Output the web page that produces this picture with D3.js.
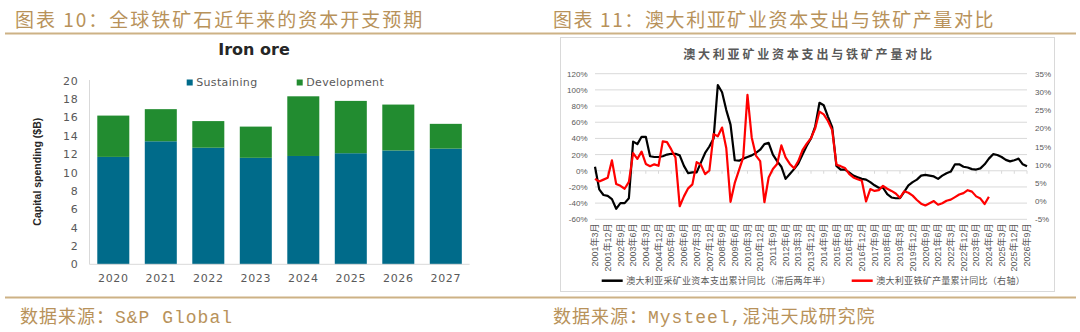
<!DOCTYPE html>
<html>
<head>
<meta charset="utf-8">
<script src="https://cdn.jsdelivr.net/npm/d3@7"></script>
<style>
  html, body { margin: 0; padding: 0; background: #fff; }
  svg { display: block; }
</style>
</head>
<body>
<svg id="chart" width="1080" height="332"></svg>
<script>
// ---------- Panel 10: iron ore capital spending ($B) ----------
const years = ["2020", "2021", "2022", "2023", "2024", "2025", "2026", "2027"];
const sustaining = [11.7, 13.4, 12.7, 11.6, 11.8, 12.1, 12.4, 12.6];
const development = [4.5, 3.5, 2.9, 3.4, 6.5, 5.7, 5.0, 2.7];
const barTicks = [0, 2, 4, 6, 8, 10, 12, 14, 16, 18, 20];

// ---------- Panel 11: Australian mining capex vs iron ore output ----------
// quarterly categories, 2001年3月 .. 2026年9月
const quarters = [];
for (let y = 2001; y <= 2026; y++) {
  for (const m of [3, 6, 9, 12]) {
    if (y === 2026 && m > 9) break;
    quarters.push(y + "年" + m + "月");
  }
}
// cumulative YoY of mining capex, lagged 2.5 years (left axis, %)
const capexYoY = [
  5, -23, -30, -31, -35, -47, -40, -40, -34, 36,
  33, 42, 42, 18, 17, 17, 18, 20, 21, 21,
  19, 6, -3, -2, -2, 10, 22, 30, 40, 106,
  97, 75, 57, 13, 12.5, 15, 17, 19, 22, 26,
  33, 34.5, 20, 12, 5, -10, -4, 2, 9, 20,
  31, 40, 55, 84, 81, 67, 54, 6, 1.5, 1.5,
  -2, -6, -8, -10, -11, -14, -18, -21, -21, -29,
  -33, -34, -34, -26, -18, -14, -11, -6, -5, -6,
  -7, -10, -6, -3, -1, 8, 8, 5, 4, 2,
  1.5, 3, 8, 15, 20.5, 19.5, 17, 13.5, 11.6, 13,
  15, 8, 5.5
];
// cumulative YoY of iron ore output (right axis, %)
const oreYoY = [
  6.1, 5.4, 5.9, 6.4, 11.2, 4.7, 4.2, 3.4, 5.3, 13.2,
  11.6, 13.6, 10.2, 9.6, 10.1, 9.7, 16.4, 16.2, 14.2, 12,
  -1.4, 1.3, 3.5, 4.6, 10.7, 10, 7.4, 8.4, 18.4, 17.8,
  20.2, 14.5, -0.2, 5, 8.5, 12, 29.2, 17.5, 12.5, 11,
  -0.3, 6.5, 8.8, 10.2, 15.3, 12, 10.2, 9, 11, 14,
  15.8, 17.3, 20, 24.6, 23.8, 22, 19.5, 10, 9.6, 9.1,
  7.5, 6.5, 6, 5.6, -0.1, 3.3, 2.8, 3.0, 4.2, 3.4,
  2.8, 2.1, 0.9, 2.7, 2.3, 1.5, 0.3, -0.7, -1.2, -0.6,
  0, -1, -0.6, 0.1, 0.4, 1.1, 1.8, 2.2, 3.0, 2.6,
  1.3, 0.7, -0.8, 1.2
];
const leftTicks = [-60, -40, -20, 0, 20, 40, 60, 80, 100, 120];
const rightTicks = [-5, 0, 5, 10, 15, 20, 25, 30, 35];

const gold = "#b8925a";
const goldLine = "#cdb285";
const grey = "#595959";
const cjk = "'Noto Sans CJK SC', sans-serif";

const svg = d3.select("#chart");

// ---------- headers and footers ----------
svg.append("text").attr("x", 15).attr("y", 27)
  .attr("font-family", cjk).attr("font-size", 19).attr("letter-spacing", 2)
  .attr("fill", gold).text("图表 10：全球铁矿石近年来的资本开支预期");
svg.append("text").attr("x", 553).attr("y", 27)
  .attr("font-family", cjk).attr("font-size", 19).attr("letter-spacing", 1.6)
  .attr("fill", gold).text("图表 11：澳大利亚矿业资本支出与铁矿产量对比");
svg.append("line").attr("x1", 5).attr("x2", 1076).attr("y1", 33.5).attr("y2", 33.5)
  .attr("stroke", goldLine).attr("stroke-width", 2);
svg.append("line").attr("x1", 5).attr("x2", 1076).attr("y1", 297.5).attr("y2", 297.5)
  .attr("stroke", goldLine).attr("stroke-width", 2);

const srcFont = "'Liberation Mono', 'Noto Sans CJK SC', monospace";
svg.append("text").attr("x", 20).attr("y", 323)
  .attr("font-family", srcFont).attr("font-size", 18).attr("letter-spacing", 1)
  .attr("fill", gold).text("数据来源：S&P Global");
svg.append("text").attr("x", 553).attr("y", 323)
  .attr("font-family", srcFont).attr("font-size", 18).attr("letter-spacing", 1)
  .attr("fill", gold).text("数据来源：Mysteel,混沌天成研究院");

// ---------- stacked bar chart ----------
const sansWide = "'DejaVu Sans', sans-serif";
const xb = d3.scaleBand().domain(years).range([89.5, 469.6])
  .paddingInner(0.326).paddingOuter(0.164);
const yb = d3.scaleLinear().domain([0, 20]).range([264.3, 80.7]);

const bar = svg.append("g");
bar.append("text").attr("x", 254).attr("y", 54.5).attr("text-anchor", "middle")
  .attr("font-family", sansWide).attr("font-weight", "bold").attr("font-size", 16)
  .attr("fill", "#262626").text("Iron ore");

const yAxisB = bar.append("g").attr("transform", "translate(89.5,0)")
  .call(d3.axisLeft(yb).tickValues(barTicks).tickSize(0).tickPadding(11));
yAxisB.select(".domain").remove();
yAxisB.selectAll("text").attr("font-family", sansWide).attr("font-size", 11)
  .attr("letter-spacing", 0.8).attr("fill", grey);

const xAxisB = bar.append("g").attr("transform", "translate(0,264.3)")
  .call(d3.axisBottom(xb).tickSize(0).tickPadding(10));
xAxisB.select(".domain").remove();
xAxisB.selectAll("text").attr("font-family", sansWide).attr("font-size", 11)
  .attr("letter-spacing", 0.6).attr("fill", grey);

bar.append("text")
  .attr("transform", "translate(37.5,171.7) rotate(-90)")
  .attr("text-anchor", "middle").attr("dy", "0.35em")
  .attr("font-family", "'Liberation Sans', Arial, sans-serif").attr("font-weight", "bold")
  .attr("font-size", 10.5).attr("fill", "#262626").text("Capital spending ($B)");

const series = [
  { name: "Sustaining", color: "#006b8a", vals: sustaining },
  { name: "Development", color: "#228c30", vals: development }
];
const stacked = d3.stack().keys([0, 1])
  .value((d, k) => series[k].vals[d])(d3.range(years.length));
stacked.forEach((layer, k) => {
  bar.append("g").selectAll("rect").data(layer).join("rect")
    .attr("x", (d, i) => xb(years[i]))
    .attr("width", xb.bandwidth())
    .attr("y", d => yb(d[1]))
    .attr("height", d => yb(d[0]) - yb(d[1]))
    .attr("fill", series[k].color);
});

bar.append("line").attr("x1", 89.5).attr("x2", 89.5).attr("y1", 80).attr("y2", 264.3)
  .attr("stroke", "#d9d9d9").attr("stroke-width", 1);
bar.append("line").attr("x1", 89.5).attr("x2", 469.6).attr("y1", 264.3).attr("y2", 264.3)
  .attr("stroke", "#d9d9d9").attr("stroke-width", 1);

const legB = bar.append("g");
[[186.7, 0], [296.7, 1]].forEach(([lx, k]) => {
  legB.append("rect").attr("x", lx).attr("y", 79.5).attr("width", 6).attr("height", 6)
    .attr("fill", series[k].color);
  legB.append("text").attr("x", lx + 9.5).attr("y", 82.5).attr("dy", "0.35em")
    .attr("font-family", sansWide).attr("font-size", 11).attr("letter-spacing", 0.35)
    .attr("fill", grey).text(series[k].name);
});

// ---------- dual-axis line chart ----------
const line = svg.append("g");
line.append("rect").attr("x", 560.5).attr("y", 37.5).attr("width", 494).attr("height", 254)
  .attr("fill", "none").attr("stroke", "#d9d9d9").attr("stroke-width", 1);

line.append("text").attr("x", 809).attr("y", 58.5).attr("text-anchor", "middle")
  .attr("font-family", cjk).attr("font-weight", "bold").attr("font-size", 12)
  .attr("letter-spacing", 2.8).attr("fill", grey).text("澳大利亚矿业资本支出与铁矿产量对比");

const xq = d3.scalePoint().domain(quarters).range([595, 1027]);
const yL = d3.scaleLinear().domain([-60, 120]).range([219.3, 73.7]);
const yR = d3.scaleLinear().domain([-5, 35]).range([219.3, 73.7]);

line.append("g").selectAll("line").data(leftTicks).join("line")
  .attr("x1", 595).attr("x2", 1027)
  .attr("y1", d => yL(d)).attr("y2", d => yL(d))
  .attr("stroke", "#d9d9d9").attr("stroke-width", 1);

// category tick marks on the zero line
const tickQ = quarters.filter((q, i) => i % 3 === 0);
line.append("g").selectAll("line").data(tickQ).join("line")
  .attr("x1", d => xq(d)).attr("x2", d => xq(d))
  .attr("y1", yL(0)).attr("y2", yL(0) + 3)
  .attr("stroke", "#d9d9d9").attr("stroke-width", 1);

const axL = line.append("g").attr("transform", "translate(595,0)")
  .call(d3.axisLeft(yL).tickValues(leftTicks).tickSize(0).tickPadding(7.5)
    .tickFormat(d => d + "%"));
axL.select(".domain").remove();
axL.selectAll("text").attr("font-family", "'Liberation Sans', Arial, sans-serif")
  .attr("font-size", 8).attr("fill", grey);

const axR = line.append("g").attr("transform", "translate(1027,0)")
  .call(d3.axisRight(yR).tickValues(rightTicks).tickSize(0).tickPadding(8)
    .tickFormat(d => d + "%"));
axR.select(".domain").remove();
axR.selectAll("text").attr("font-family", "'Liberation Sans', Arial, sans-serif")
  .attr("font-size", 8).attr("fill", grey);

line.append("g").selectAll("text").data(tickQ).join("text")
  .attr("transform", d => `translate(${xq(d)},223.5) rotate(-90)`)
  .attr("text-anchor", "end").attr("dy", "0.35em")
  .attr("font-family", "'Liberation Sans', 'Noto Sans CJK SC', sans-serif")
  .attr("font-size", 9).attr("fill", grey).text(d => d);

const capexLine = d3.line().x((d, i) => xq(quarters[i])).y(d => yL(d));
const oreLine = d3.line().x((d, i) => xq(quarters[i])).y(d => yR(d));

line.append("path").attr("d", capexLine(capexYoY))
  .attr("fill", "none").attr("stroke", "#000").attr("stroke-width", 2.2)
  .attr("stroke-linejoin", "round");
line.append("path").attr("d", oreLine(oreYoY))
  .attr("fill", "none").attr("stroke", "#ff0000").attr("stroke-width", 2.2)
  .attr("stroke-linejoin", "round");

// legend
const legL = line.append("g");
[
  { x: 601.7, color: "#000", label: "澳大利亚采矿业资本支出累计同比（滞后两年半）" },
  { x: 851.7, color: "#ff0000", label: "澳大利亚铁矿产量累计同比（右轴）" }
].forEach(it => {
  legL.append("line").attr("x1", it.x).attr("x2", it.x + 21).attr("y1", 280.7).attr("y2", 280.7)
    .attr("stroke", it.color).attr("stroke-width", 2.5);
  legL.append("text").attr("x", it.x + 24.5).attr("y", 280.7).attr("dy", "0.35em")
    .attr("font-family", cjk).attr("font-size", 9).attr("letter-spacing", 0.3)
    .attr("fill", grey).text(it.label);
});
</script>
</body>
</html>
